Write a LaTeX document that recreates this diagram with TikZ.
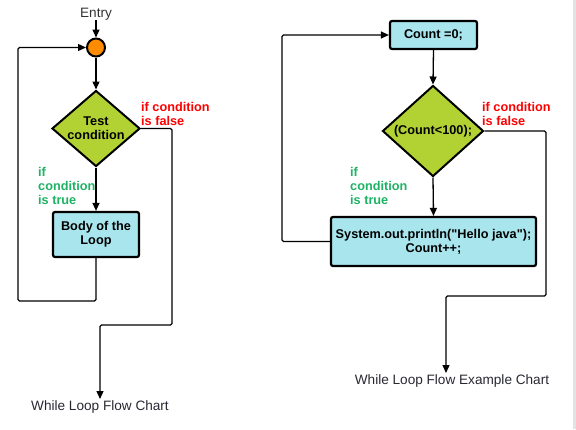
\documentclass[tikz,border=0pt]{standalone}
\usepackage{fontspec}
\setmainfont{Liberation Sans}[Ligatures=TeXOff]
\usetikzlibrary{arrows.meta,shapes.geometric}
\definecolor{boxfill}{RGB}{169,229,237}
\definecolor{dfill}{RGB}{178,210,52}
\definecolor{orng}{RGB}{255,140,0}
\definecolor{tgreen}{RGB}{30,178,100}
\definecolor{tred}{RGB}{255,0,0}
\definecolor{tdark}{RGB}{40,40,50}
\newcommand{\regfont}{\fontsize{13.6}{15}\selectfont}
\newcommand{\boldfont}{\fontsize{12.7}{14}\selectfont\bfseries}
\tikzset{
  conn/.style={line width=1.3pt, rounded corners=1.5pt, -{Triangle[length=8pt,width=7pt]}},
  procbox/.style={draw, line width=2.2pt, fill=boxfill, rounded corners=2pt, inner sep=0pt, align=center, font=\boldfont},
  decision/.style={draw, line width=2pt, fill=dfill, diamond, inner sep=0pt},
  dtext/.style={align=center, font=\boldfont, inner sep=0pt},
  falsetxt/.style={text=tred, font=\boldfont, align=left, inner sep=0pt, anchor=west},
  truetxt/.style={text=tgreen, font=\boldfont, align=left, inner sep=0pt, anchor=west},
  endtxt/.style={text=tdark, font=\regfont, inner sep=0pt},
}
\begin{document}
\begin{tikzpicture}[x=1pt,y=-1pt]
\useasboundingbox (0,0) rectangle (576,429);
\fill[black!11] (573,0) rectangle (576,429);
% ---------- left chart ----------
\node[text=black!80, font=\regfont, inner sep=0pt] (entry) at (96,14) {Entry};
\node[draw, circle, line width=2pt, fill=orng, minimum size=18pt, inner sep=0pt] (c1) at (96,47.5) {};
\node[decision, minimum width=88pt, minimum height=76pt] (d1) at (96,128.5) {};
\node[dtext] (d1t) at (96,128.5) {Test\\condition};
\node[procbox, minimum width=86pt, minimum height=45pt] (b1) at (96,234.5) {Body of the\\Loop};
\node[falsetxt] (f1t) at (141,114) {if condition\\is false};
\node[truetxt] (t1t) at (38,186) {if\\condition\\is true};
\node[endtxt] (end1) at (100,407) {While Loop Flow Chart};
\coordinate (l1) at (18,301);
\coordinate (f1) at (172,325);
\coordinate (e1) at (100,399);
\draw[conn] (entry.south) -- (c1.north);
\draw[conn] (c1.south) -- (d1.north);
\draw[conn] (d1.south) -- (b1.north);
\draw[conn] (b1.south) |- (l1) |- (c1.west);
\draw[conn] (d1.east) -| (f1) -| (e1);
% ---------- right chart ----------
\node[procbox, minimum width=87pt, minimum height=28pt] (cnt) at (433.5,35) {Count =0;};
\node[decision, minimum width=101pt, minimum height=91pt] (d2) at (433,131) {};
\node[dtext] (d2t) at (433,131) {(Count<100);};
\node[procbox, minimum width=205pt, minimum height=49pt] (b2) at (433.5,241.5) {System.out.println("Hello java");\\Count++;};
\node[falsetxt] (f2t) at (482,114) {if condition\\is false};
\node[truetxt] (t2t) at (350,186) {if\\condition\\is true};
\node[endtxt] (end2) at (452,381) {While Loop Flow Example Chart};
\coordinate (l2) at (282,241.5);
\coordinate (f2) at (546,296);
\coordinate (e2) at (446,373);
\draw[conn] (cnt.south) -- (d2.north);
\draw[conn] (d2.south) -- (b2.north);
\draw[conn] (b2.west) -- (l2) |- (cnt.west);
\draw[conn] (d2.east) -| (f2) -| (e2);
\end{tikzpicture}
\end{document}
